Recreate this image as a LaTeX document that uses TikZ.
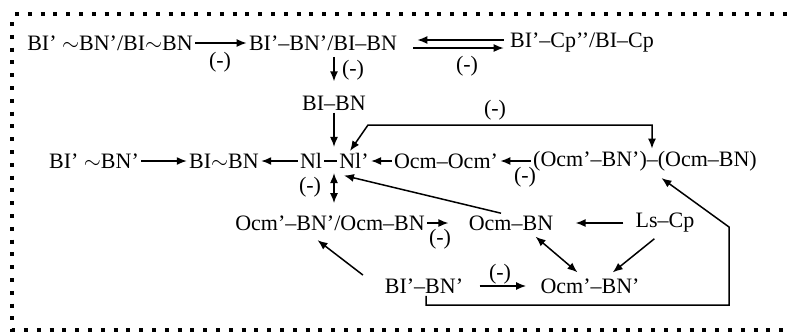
\documentclass[tikz,border=0pt]{standalone}
\usepackage{fontspec}
\setmainfont{Liberation Serif}
\usetikzlibrary{arrows.meta}

\newcommand{\wave}{\ensuremath{\sim}}

\begin{document}
\begin{tikzpicture}[x=0.5pt, y=-0.5pt, >={Latex[length=5pt,width=4pt]},
    sp/.style={inner sep=1pt, font=\fontsize{11}{13}\selectfont},
    arr/.style={->, line width=0.75pt},
    frame/.style={line width=2pt, dash pattern=on 2pt off 4.4pt}]
				\useasboundingbox (0,0) rectangle (791,333);
				
				\draw[frame] (15,14) -- (791,14);
				\draw[frame] (12,22) -- (12,330) -- (791,330);
				
				\node[sp] (a1) at (110,43) {BI’ \wave BN’/BI\wave BN};
				\node[sp] (a2) at (323,43) {BI’–BN’/BI–BN};
				\node[sp] (a3) at (582,43) {BI’–Cp’’/BI–Cp};
				\node[sp] (b1) at (334,103) {BI–BN};
				
				\node[sp] (c1) at (94,161) {BI’ \wave BN’};
				\node[sp] (c2) at (224,161) {BI\wave BN};
				\node[sp] (nl) at (311,161) {Nl};
				\node[sp] (nlp) at (354,161) {Nl’};
				\node[sp] (c4) at (446,161) {Ocm–Ocm’};
				\node[sp] (c5) at (645,161) {(Ocm’–BN’)–(Ocm–BN)};
				
				\node[sp] (d1) at (330,223) {Ocm’–BN’/Ocm–BN};
				\node[sp] (d2) at (511,223) {Ocm–BN};
				\node[sp] (d3) at (665,223) {Ls–Cp};
				\node[sp] (e1) at (424,286) {BI’–BN’};
				\node[sp] (e2) at (590,286) {Ocm’–BN’};
				
				\node[sp] (m1) at (220,62) {(-)};
				\node[sp] (m2) at (467,66) {(-)};
				\node[sp] (m3) at (353,70) {(-)};
				\node[sp] (m4) at (495,110) {(-)};
				\node[sp] (m5) at (310,187) {(-)};
				\node[sp] (m6) at (525,177) {(-)};
				\node[sp] (m7) at (440,239) {(-)};
				\node[sp] (m8) at (500,274) {(-)};
				
				\coordinate (k1) at (368,125);
				\coordinate (k2) at (652,125);
				\coordinate (k3) at (729,305);
				\coordinate (k4) at (729,227);
				
				\draw[arr] (a1) -- (a2);
				\draw[arr] ([xshift=-2pt,yshift=1.5pt]a3.west) -- ([xshift=9pt,yshift=1.5pt]a2.east);
				\draw[arr] ([xshift=7pt,yshift=-2.5pt]a2.east) -- ([xshift=-2pt,yshift=-2.5pt]a3.west);
				\draw[arr, shorten <=2pt, shorten >=6pt] (a2.south -| b1) -- (b1.north);
				\draw[arr, shorten >=2pt] (b1) -- (b1 |- nl.north);
				
				\draw[arr] (c1) -- (c2);
				\draw[arr] (nl) -- (c2);
				\draw[line width=0.75pt] (nl) -- (nlp);
				\draw[arr] (c4) -- (nlp);
				\draw[arr] (c5) -- (c4);
				\draw[arr, <->] ([xshift=-2pt]nlp.north) -- (k1) -- (k2) -- (k2 |- c5.north);
				\draw[arr, <->, shorten <=1pt, shorten >=5pt] (b1 |- nl.south) -- (b1 |- d1.north);
				
				\draw[arr, shorten >=9pt] (d1) -- (d2);
				\draw[arr, shorten <=5pt, shorten >=10pt] (d3) -- (d2);
				\draw[arr, shorten >=1pt] ([xshift=-5pt]d2.north) -- ([xshift=-6pt,yshift=-2pt]nlp.south);
				\draw[arr, <->, shorten <=3pt, shorten >=3pt] ([xshift=10pt]d2.south) -- ([xshift=-4pt]e2.north);
				\draw[arr, shorten <=3pt, shorten >=3pt] ([xshift=-3pt]d3.south) -- ([xshift=9pt]e2.north);
				\draw[arr, shorten <=1pt, shorten >=6pt] ([xshift=-9pt]e1.north west) -- ([xshift=-11pt]d1.south);
				\draw[arr, shorten <=7pt, shorten >=6pt] (e1) -- (e2);
				\draw[arr, shorten >=4pt] ([xshift=1pt]e1.south) |- (k3) -- (k4) -- ([xshift=5pt]c5.south);
			\end{tikzpicture}
\end{document}
